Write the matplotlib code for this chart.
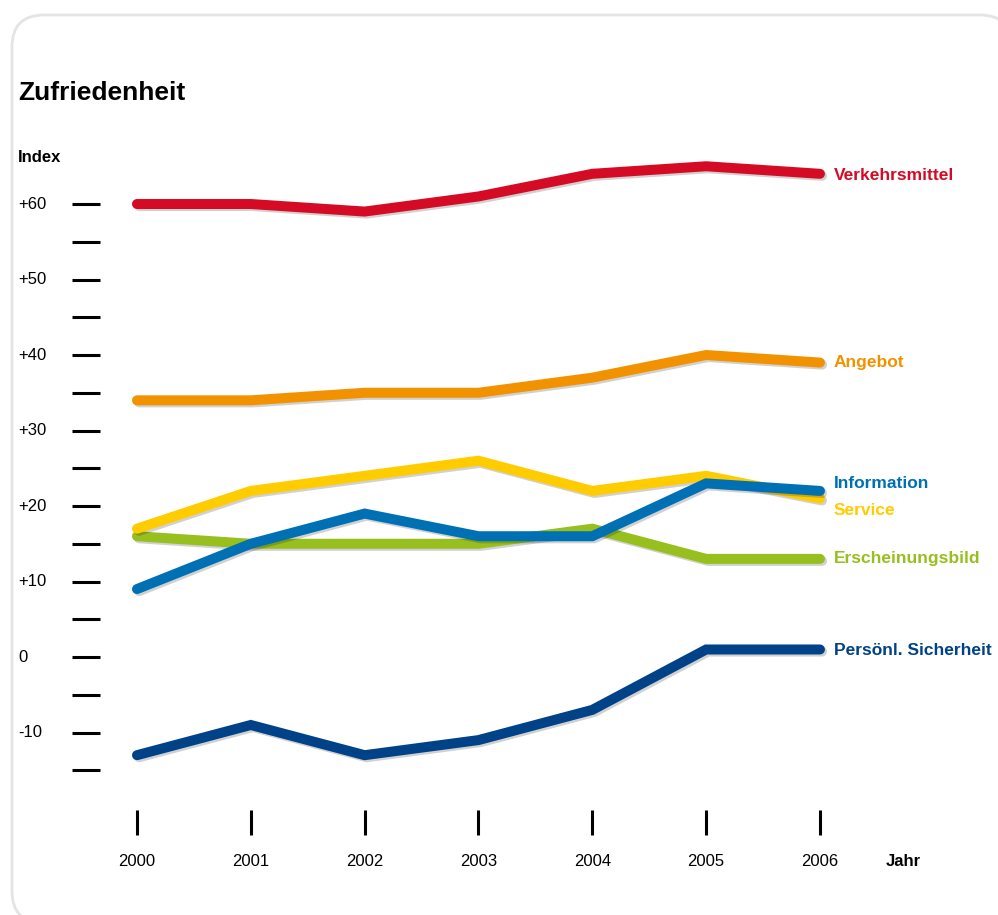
import matplotlib
matplotlib.use("Agg")
import matplotlib.pyplot as plt
import matplotlib.patheffects as pe
import matplotlib.transforms as mtrans
from matplotlib.patches import FancyBboxPatch

plt.rcParams['font.family'] = ['Liberation Sans Narrow', 'Liberation Sans', 'DejaVu Sans']

jahre = [2000, 2001, 2002, 2003, 2004, 2005, 2006]
verkehrsmittel = [60, 60, 59, 61, 64, 65, 64]
angebot = [34, 34, 35, 35, 37, 40, 39]
erscheinungsbild = [16, 15, 15, 15, 17, 13, 13]
service = [17, 22, 24, 26, 22, 24, 21]
information = [9, 15, 19, 16, 16, 23, 22]
sicherheit = [-13, -9, -13, -11, -7, 1, 1]

serien = [
    ("Verkehrsmittel", verkehrsmittel, "#D50A24", -1),
    ("Angebot", angebot, "#F39200", 0),
    ("Erscheinungsbild", erscheinungsbild, "#97BF1E", 0),
    ("Service", service, "#FFCC00", -9),
    ("Information", information, "#0070B5", 5),
    ("Persönl. Sicherheit", sicherheit, "#004288", -1),
]

y_ticks = list(range(-15, 61, 5))
y_label_werte = list(range(-10, 61, 10))
y_labels = ["+%d" % v if v > 0 else str(v) for v in y_label_werte]

W, H = 998, 915
fig = plt.figure(figsize=(W / 100, H / 100), dpi=100)

# rahmen (in zoll)
box = FancyBboxPatch((0.12, -0.08), 10.0, 9.08,
                     boxstyle="round,pad=0,rounding_size=0.32",
                     transform=fig.dpi_scale_trans, fc="white", ec="#e4e4e4", lw=2,
                     zorder=-10)
fig.add_artist(box)

ax = fig.add_axes([100 / W, (H - 810) / H, (W - 100) / W, 810 / H])
ax.patch.set_alpha(0)
for s in ax.spines.values():
    s.set_visible(False)
ax.set_xlim(1999.675, 2007.564)
ax.set_ylim(-20.26, 87.02)

shadow = [pe.SimpleLineShadow(offset=(1.5, -1.5), shadow_color="black", alpha=0.18), pe.Normal()]
for name, vals, col, dy in serien:
    ax.plot(jahre, vals, color=col, lw=7.2, solid_capstyle="round",
            solid_joinstyle="miter", clip_on=False, path_effects=shadow)
    ax.annotate(name, (jahre[-1], vals[-1]), xytext=(10, dy), textcoords="offset points",
                color=col, fontsize=12.5, fontweight="bold", va="center", ha="left")

# achsen
ax.set_yticks(y_ticks)
ax.set_yticklabels([])
ax.tick_params(axis="y", length=20, width=2.2, color="black")
ax.set_xticks(jahre)
ax.set_xticklabels([str(j) for j in jahre], fontsize=12)
ax.tick_params(axis="x", length=18, width=2.2, pad=14, color="black")

lab_tr = mtrans.blended_transform_factory(fig.transFigure, ax.transData)
for v, lab in zip(y_label_werte, y_labels):
    ax.text(18 / W, v, lab, transform=lab_tr, fontsize=12, ha="left", va="center")

fig.text(18 / W, 1 - 93 / H, "Zufriedenheit", fontsize=19, fontweight="bold", va="center")
fig.text(18 / W, 1 - 158 / H, "Index", fontsize=12, fontweight="bold", va="center")
fig.text(886 / W, 1 - 862 / H, "Jahr", fontsize=12, fontweight="bold", va="center")

fig.savefig("out.png", dpi=100)
